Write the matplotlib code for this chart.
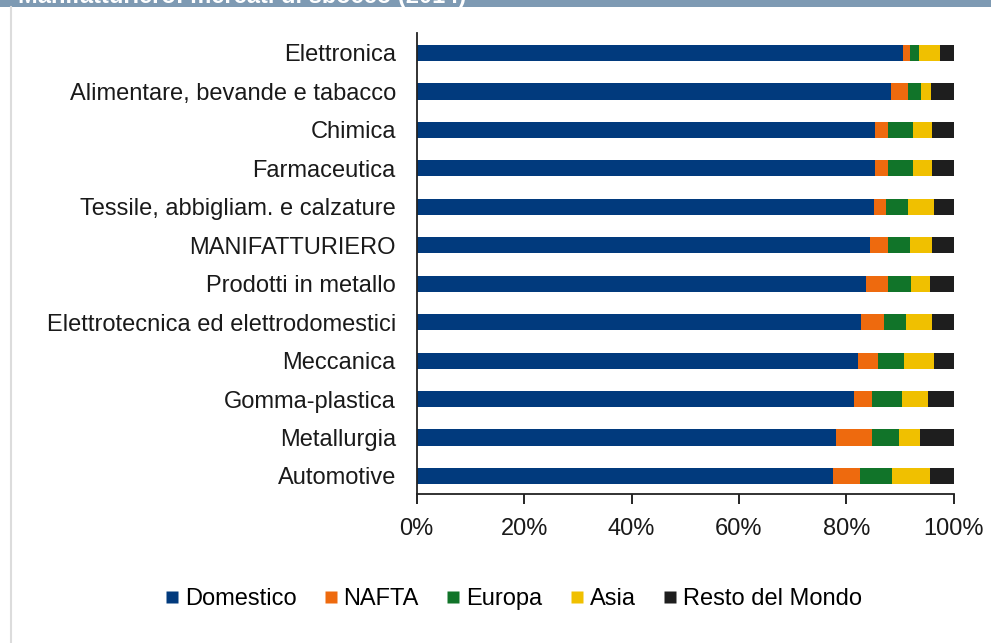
import matplotlib
matplotlib.use("Agg")
import matplotlib.pyplot as plt
from matplotlib.lines import Line2D
from matplotlib.patches import Rectangle

plt.rcParams['font.family'] = ['Liberation Sans', 'DejaVu Sans']

# Sectors, top to bottom as listed
categories = [
    "Elettronica",
    "Alimentare, bevande e tabacco",
    "Chimica",
    "Farmaceutica",
    "Tessile, abbigliam. e calzature",
    "MANIFATTURIERO",
    "Prodotti in metallo",
    "Elettrotecnica ed elettrodomestici",
    "Meccanica",
    "Gomma-plastica",
    "Metallurgia",
    "Automotive",
]

# Shares of output by destination market (%)
domestico = [90.6, 88.4, 85.4, 85.4, 85.1, 84.4, 83.6, 82.8, 82.1, 81.4, 78.0, 77.6]
nafta     = [1.2, 3.0, 2.3, 2.3, 2.2, 3.3, 4.1, 4.2, 3.8, 3.4, 6.8, 4.9]
europa    = [1.8, 2.6, 4.8, 4.8, 4.1, 4.1, 4.4, 4.1, 4.8, 5.5, 5.1, 6.0]
asia      = [3.8, 1.8, 3.4, 3.4, 4.9, 4.1, 3.4, 4.8, 5.6, 4.9, 3.8, 7.0]
resto     = [2.6, 4.2, 4.1, 4.1, 3.7, 4.1, 4.5, 4.1, 3.7, 4.8, 6.3, 4.5]

series = [
    ("Domestico", domestico, "#013a7d"),
    ("NAFTA", nafta, "#ee6a0e"),
    ("Europa", europa, "#117429"),
    ("Asia", asia, "#f0c000"),
    ("Resto del Mondo", resto, "#1e1e1e"),
]

xticks = [0, 20, 40, 60, 80, 100]
xticklabels = ["0%", "20%", "40%", "60%", "80%", "100%"]

fig = plt.figure(figsize=(9.91, 6.43), dpi=100)
fig.patch.set_facecolor("white")

# header band with the chart title, running off the top edge
fig.patches.append(Rectangle((0, 1 - 6.5 / 643), 1, 6.5 / 643, transform=fig.transFigure,
                             facecolor="#7e9ab3", edgecolor="none", zorder=0))
fig.text(18 / 991, 1 - 2.5 / 643, "Manifatturiero: mercati di sbocco (2014)",
         color="white", fontsize=17, fontweight="bold", ha="left", va="baseline")
# thin frame on the left side
fig.add_artist(Line2D([10.5 / 991, 10.5 / 991], [0, 1 - 7 / 643],
                      transform=fig.transFigure, color="#dcdcdc", lw=1.5))

ax = fig.add_axes([416.7 / 991, 1 - 494 / 643, (953.7 - 416.7) / 991, (494 - 33) / 643])

n = len(categories)
ypos = [n - 1 - i for i in range(n)]
left = [0.0] * n
for name, vals, color in series:
    ax.barh(ypos, vals, left=left, height=0.42, color=color, edgecolor="none", label=name)
    left = [l + v for l, v in zip(left, vals)]

ax.set_xlim(0, 100)
ax.set_ylim(-0.47, n - 1 + 0.52)
ax.set_yticks(ypos)
ax.set_yticklabels(categories, fontsize=17, color="#1a1a1a")
ax.tick_params(axis="y", length=0, pad=15)
ax.set_xticks(xticks)
ax.set_xticklabels(xticklabels, fontsize=17, color="#1a1a1a")
ax.tick_params(axis="x", direction="out", length=7, width=1.2, pad=10)
for s in ("top", "right"):
    ax.spines[s].set_visible(False)
for s in ("left", "bottom"):
    ax.spines[s].set_linewidth(1.3)
    ax.spines[s].set_color("#222222")

handles = [Line2D([0], [0], marker="s", linestyle="none", markersize=9,
                  markerfacecolor=c, markeredgecolor="none") for _, _, c in series]
fig.legend(handles, [s[0] for s in series], loc="center", ncol=5,
           bbox_to_anchor=(512 / 991, 1 - 599 / 643), frameon=False, fontsize=17,
           handletextpad=0.15, columnspacing=1.05, handlelength=0.8)

fig.savefig("out.png", dpi=100)
